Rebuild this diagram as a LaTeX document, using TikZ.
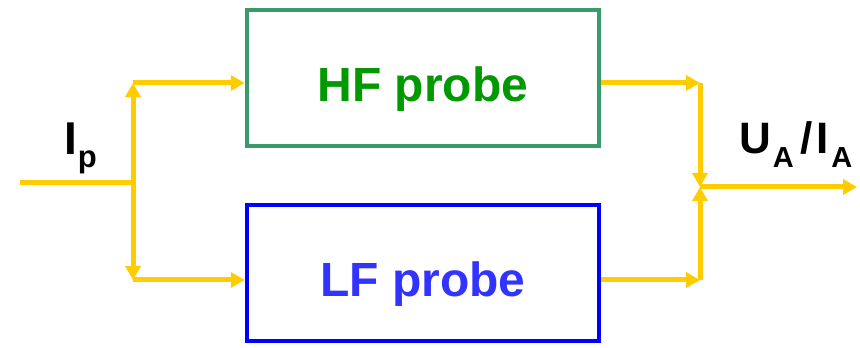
\documentclass[tikz,border=0pt]{standalone}
\usepackage{fontspec}
\setmainfont{Liberation Sans}
\usetikzlibrary{arrows.meta}
\definecolor{wire}{HTML}{FFCC00}
\definecolor{hfline}{HTML}{3A9A6A}
\definecolor{hftext}{HTML}{009900}
\definecolor{lfline}{HTML}{0000FF}
\definecolor{lftext}{HTML}{3333FF}
\begin{document}
\begin{tikzpicture}
  [x=1pt,y=1pt,
   probebox/.style={rectangle,line width=4.5pt,minimum width=352pt,minimum height=136pt,inner sep=0pt,
       text height=48pt,text depth=0pt,font=\fontsize{48}{56}\selectfont\bfseries},
   hfbox/.style={probebox,draw=hfline,text=hftext},
   lfbox/.style={probebox,draw=lfline,text=lftext},
   signal/.style={anchor=base west,inner sep=0pt},
   wireline/.style={wire,line width=5pt},
   tip/.style={-{Triangle[length=14pt,width=15pt]}}]
		\useasboundingbox (0,0) rectangle (860,348);
		\node (HF) [hfbox] at (423,270) {HF probe};
		\node (LF) [lfbox] at (423,75) {LF probe};
		\node (Ip) [signal,font=\fontsize{46}{50}\selectfont\bfseries] at (64,193)
			{I\kern1pt\raisebox{-13pt}{\fontsize{31}{31}\selectfont p}};
		\node (UA) [signal,font=\fontsize{44}{48}\selectfont\bfseries] at (739,194)
			{U\kern2pt\raisebox{-14pt}{\fontsize{29}{29}\selectfont A}\kern7pt/\kern3pt I\kern3pt\raisebox{-14pt}{\fontsize{29}{29}\selectfont A}};
		\coordinate (in) at (20,165);
		\coordinate (split) at (133,165);
		\coordinate (S1) at (133,265);
		\coordinate (S2) at (133,68);
		\coordinate (J1) at (700,265);
		\coordinate (J2) at (700,68);
		\coordinate (merge) at (700,161);
		\coordinate (out) at (857,161);
		\draw [wireline] (in) -- (split);
		\draw [wireline,tip] (split) -- (S1);
		\draw [wireline,tip] (split) -- (S2);
		\draw [wireline,tip] (S1) -- (S1 -| HF.west);
		\draw [wireline,tip] (S2) -- (S2 -| LF.west);
		\draw [wireline,tip] (J1 -| HF.east) -- (J1);
		\draw [wireline,tip] (J2 -| LF.east) -- (J2);
		\draw [wireline,tip] (J1) -- (merge);
		\draw [wireline,tip] (J2) -- (merge);
		\draw [wireline,tip] (merge) -- (out);
\end{tikzpicture}
\end{document}
